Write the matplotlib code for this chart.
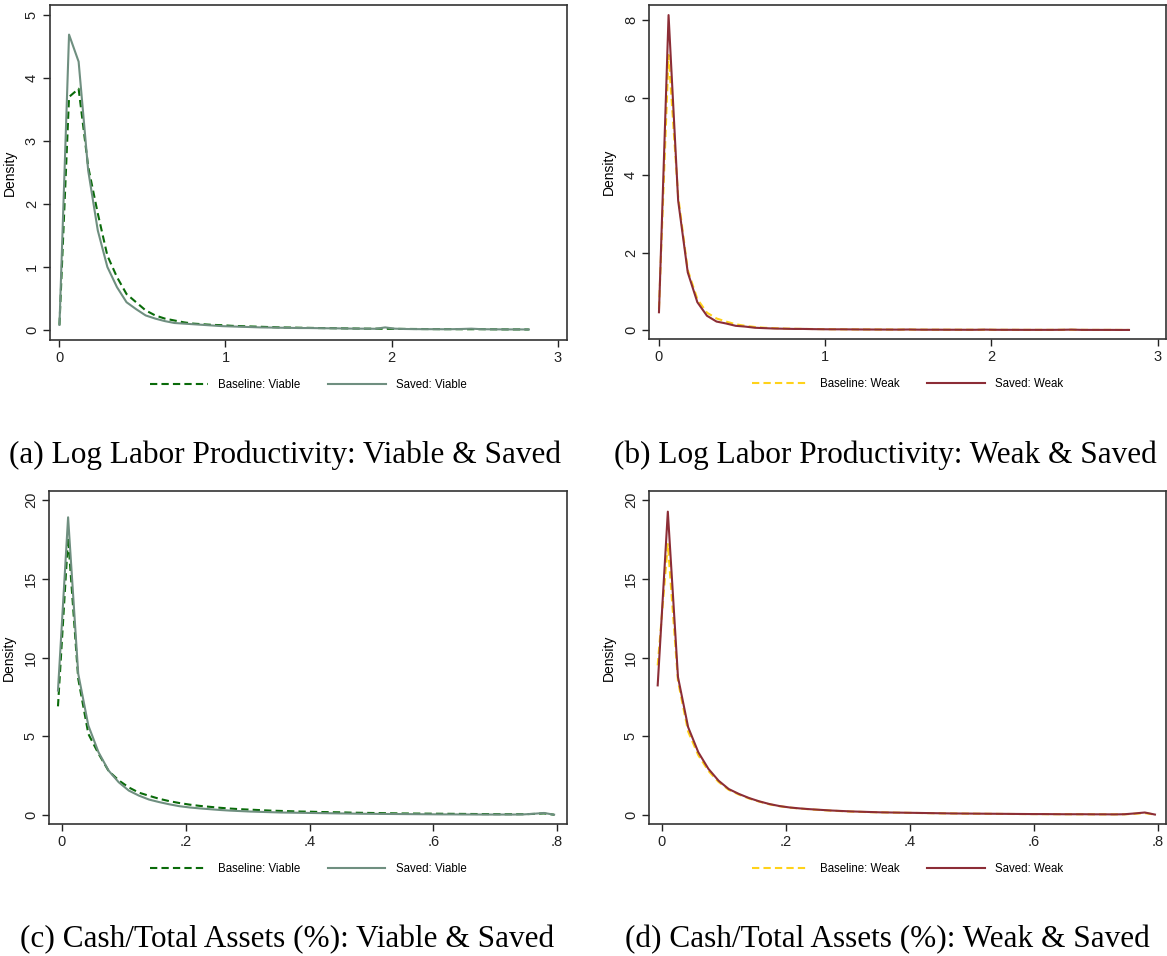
import numpy as np
import matplotlib
matplotlib.use("Agg")
import matplotlib.pyplot as plt

plt.rcParams['font.family'] = ['Liberation Sans', 'DejaVu Sans']

# density grids
lp_x = np.arange(50) * 0.0577
cash_x = -0.0065 + np.arange(50) * 0.01636

# Log labor productivity, viable firms
lp_base_viable = [0.08, 3.70, 3.83, 2.59, 1.85, 1.18, 0.84, 0.57, 0.44, 0.31,
                  0.23, 0.18, 0.15, 0.12, 0.10, 0.09, 0.08, 0.075, 0.065, 0.06,
                  0.055, 0.05, 0.045, 0.04, 0.038, 0.035, 0.033, 0.03, 0.028, 0.026,
                  0.024, 0.022, 0.02, 0.02, 0.018, 0.017, 0.016, 0.015, 0.014, 0.013,
                  0.012, 0.012, 0.011, 0.011, 0.012, 0.010, 0.009, 0.008, 0.008, 0.007]
lp_saved_viable = [0.08, 4.69, 4.26, 2.53, 1.58, 1.00, 0.68, 0.44, 0.33, 0.23,
                   0.18, 0.14, 0.11, 0.10, 0.09, 0.08, 0.07, 0.06, 0.055, 0.05,
                   0.045, 0.04, 0.038, 0.035, 0.033, 0.03, 0.03, 0.028, 0.026, 0.025,
                   0.022, 0.02, 0.02, 0.018, 0.04, 0.02, 0.015, 0.013, 0.012, 0.012,
                   0.011, 0.012, 0.015, 0.02, 0.012, 0.01, 0.009, 0.008, 0.008, 0.007]

# Log labor productivity, weak firms
lp_base_weak = [0.55, 7.10, 3.45, 1.55, 0.80, 0.45, 0.30, 0.22, 0.15, 0.11,
                0.08, 0.06, 0.05, 0.04, 0.035, 0.03, 0.028, 0.025, 0.022, 0.02,
                0.018, 0.017, 0.016, 0.015, 0.014, 0.013, 0.014, 0.012, 0.011, 0.01,
                0.01, 0.009, 0.009, 0.008, 0.01, 0.008, 0.007, 0.007, 0.006, 0.006,
                0.006, 0.006, 0.007, 0.01, 0.006, 0.005, 0.005, 0.005, 0.004, 0.004]
lp_saved_weak = [0.46, 8.13, 3.34, 1.49, 0.72, 0.37, 0.22, 0.17, 0.11, 0.09,
                 0.06, 0.05, 0.04, 0.035, 0.03, 0.03, 0.025, 0.022, 0.02, 0.02,
                 0.018, 0.016, 0.015, 0.014, 0.013, 0.012, 0.015, 0.011, 0.01, 0.01,
                 0.009, 0.009, 0.008, 0.008, 0.012, 0.008, 0.007, 0.007, 0.006, 0.006,
                 0.006, 0.006, 0.008, 0.012, 0.006, 0.005, 0.005, 0.005, 0.004, 0.004]

# Cash / total assets, viable firms
cash_base_viable = [6.9, 17.6, 8.65, 5.15, 3.9, 2.8, 2.2, 1.75, 1.42, 1.22,
                    1.03, 0.88, 0.76, 0.66, 0.58, 0.52, 0.46, 0.41, 0.37, 0.34,
                    0.31, 0.28, 0.26, 0.24, 0.22, 0.21, 0.19, 0.18, 0.17, 0.15,
                    0.14, 0.13, 0.12, 0.11, 0.10, 0.095, 0.09, 0.085, 0.08, 0.075,
                    0.07, 0.065, 0.06, 0.055, 0.05, 0.05, 0.05, 0.07, 0.10, 0.02]
cash_saved_viable = [7.9, 18.9, 8.97, 5.68, 3.99, 2.82, 2.08, 1.55, 1.23, 0.98,
                     0.82, 0.68, 0.56, 0.48, 0.42, 0.37, 0.32, 0.28, 0.25, 0.22,
                     0.20, 0.18, 0.16, 0.15, 0.14, 0.13, 0.12, 0.11, 0.10, 0.09,
                     0.08, 0.075, 0.07, 0.065, 0.06, 0.055, 0.05, 0.045, 0.04, 0.04,
                     0.035, 0.035, 0.03, 0.03, 0.03, 0.03, 0.04, 0.08, 0.13, 0.02]

# Cash / total assets, weak firms
cash_base_weak = [9.5, 17.2, 8.5, 5.3, 3.8, 2.8, 2.1, 1.6, 1.3, 1.05,
                  0.85, 0.68, 0.56, 0.47, 0.41, 0.36, 0.32, 0.28, 0.25, 0.22,
                  0.20, 0.18, 0.17, 0.155, 0.145, 0.135, 0.125, 0.115, 0.105, 0.10,
                  0.09, 0.085, 0.08, 0.075, 0.07, 0.065, 0.06, 0.058, 0.055, 0.05,
                  0.05, 0.048, 0.045, 0.043, 0.04, 0.04, 0.045, 0.08, 0.12, 0.03]
cash_saved_weak = [8.23, 19.26, 8.76, 5.58, 3.99, 2.93, 2.18, 1.65, 1.34, 1.08,
                   0.87, 0.70, 0.57, 0.48, 0.42, 0.37, 0.33, 0.29, 0.26, 0.23,
                   0.21, 0.19, 0.17, 0.16, 0.15, 0.14, 0.13, 0.12, 0.11, 0.10,
                   0.095, 0.09, 0.085, 0.08, 0.075, 0.07, 0.065, 0.06, 0.06, 0.055,
                   0.05, 0.05, 0.05, 0.045, 0.045, 0.04, 0.05, 0.10, 0.16, 0.03]

lp_ticks = [0, 1, 2, 3]
lp_ticklabels = ["0", "1", "2", "3"]
cash_ticks = [0, 0.2, 0.4, 0.6, 0.8]
cash_ticklabels = ["0", ".2", ".4", ".6", ".8"]

captions = ["(a) Log Labor Productivity: Viable & Saved",
            "(b) Log Labor Productivity: Weak & Saved",
            "(c) Cash/Total Assets (%): Viable & Saved",
            "(d) Cash/Total Assets (%): Weak & Saved"]

W, H = 1167, 956
fig = plt.figure(figsize=(W / 100, H / 100), dpi=100)


def px_axes(left, right, top, bottom):
    return fig.add_axes([left / W, 1 - bottom / H, (right - left) / W, (bottom - top) / H])


def style_axes(ax, xlim, ylim, xticks, xlabels, yticks):
    ax.set_xlim(*xlim)
    ax.set_ylim(*ylim)
    ax.set_xticks(xticks)
    ax.set_xticklabels(xlabels)
    ax.set_yticks(yticks)
    ax.set_yticklabels([str(t) for t in yticks], rotation=90, va='center')
    ax.tick_params(direction='out', length=5, width=1, colors='#222222',
                   labelsize=10.5, pad=3)
    for sp in ax.spines.values():
        sp.set_color('#333333')
        sp.set_linewidth(1.2)
    ax.set_ylabel('Density', fontsize=10, labelpad=6)


def draw_panel(ax, x, base, saved, base_label, saved_label, base_color, saved_color):
    ax.plot(x, base, color=base_color, lw=1.5, ls=(0, (3.5, 2)), label=base_label)
    ax.plot(x, saved, color=saved_color, lw=1.5, label=saved_label)
    ax.legend(loc='center', bbox_to_anchor=(0.5, -0.135), ncol=2, frameon=False,
              fontsize=8.3, handlelength=5.0, handletextpad=0.9, columnspacing=2.4)


green_dk = '#0a6b0a'
green_gray = '#6f8f80'
gold = '#ffd21a'
maroon = '#8c2d36'

ax_a = px_axes(50, 567, 5, 340)
draw_panel(ax_a, lp_x, lp_base_viable, lp_saved_viable,
           'Baseline: Viable', 'Saved: Viable', green_dk, green_gray)
style_axes(ax_a, (-0.057, 3.057), (-0.16, 5.16), lp_ticks, lp_ticklabels, [0, 1, 2, 3, 4, 5])

ax_b = px_axes(649, 1166, 5, 339)
draw_panel(ax_b, lp_x, lp_base_weak, lp_saved_weak,
           'Baseline: Weak', 'Saved: Weak', gold, maroon)
style_axes(ax_b, (-0.06, 3.05), (-0.23, 8.39), lp_ticks, lp_ticklabels, [0, 2, 4, 6, 8])

ax_c = px_axes(49, 567, 491, 824)
draw_panel(ax_c, cash_x, cash_base_viable, cash_saved_viable,
           'Baseline: Viable', 'Saved: Viable', green_dk, green_gray)
style_axes(ax_c, (-0.021, 0.816), (-0.57, 20.57), cash_ticks, cash_ticklabels, [0, 5, 10, 15, 20])

ax_d = px_axes(649, 1166, 491, 824)
draw_panel(ax_d, cash_x, cash_base_weak, cash_saved_weak,
           'Baseline: Weak', 'Saved: Weak', gold, maroon)
style_axes(ax_d, (-0.0205, 0.813), (-0.57, 20.57), cash_ticks, cash_ticklabels, [0, 5, 10, 15, 20])

# panel captions
cap_pos = [(285, 455), (885, 455), (287, 940), (887, 940)]
for (cx, cy), cap in zip(cap_pos, captions):
    fig.text(cx / W, 1 - cy / H, cap, ha='center', va='center',
             fontsize=22.5, family=['Liberation Serif', 'DejaVu Serif'])

fig.savefig('out.png', dpi=100)
